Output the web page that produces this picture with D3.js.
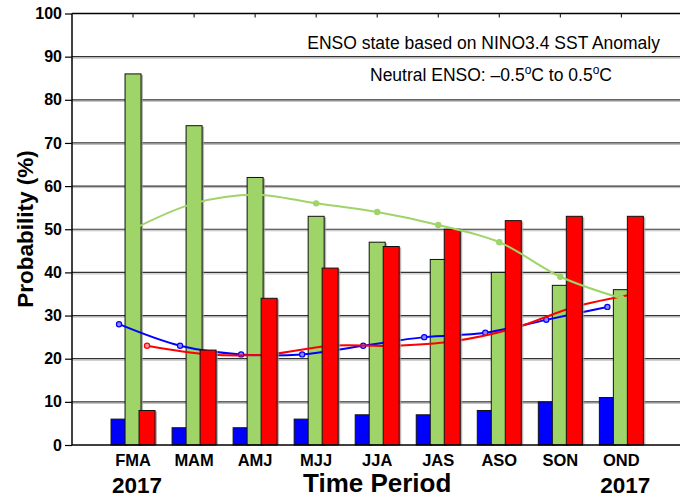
<!DOCTYPE html>
<html>
<head>
<meta charset="utf-8">
<script src="https://cdn.jsdelivr.net/npm/d3@7"></script>
<style>
  body { margin: 0; background: #fff; }
  text { font-family: "Liberation Sans", Arial, sans-serif; }
</style>
</head>
<body>
<svg id="chart" width="680" height="498"></svg>
<script>
// seasons (3-month periods)
const seasons = ["FMA", "MAM", "AMJ", "MJJ", "JJA", "JAS", "ASO", "SON", "OND"];
const yTicks = [0, 10, 20, 30, 40, 50, 60, 70, 80, 90, 100];

// model probabilities (bars)
const laNinaBars  = [6, 4, 4, 6, 7, 7, 8, 10, 11];
const neutralBars = [86, 74, 62, 53, 47, 43, 40, 37, 36];
const elNinoBars  = [8, 22, 34, 41, 46, 50, 52, 53, 53];

// climatological probabilities (lines)
const laNinaClim  = [28, 23, 21, 21, 23, 25, 26, 29, 32];
const neutralClim = [50, 56, 58, 56, 54, 51, 47, 39, 34];
const elNinoClim  = [23, 21, 21, 23, 23, 24, 27, 32, 35];

const blue = "#0000ff", green = "#9fd468", red = "#ff0000";

const svg = d3.select("#chart");

const plotLeft = 72, plotRight = 682.4, plotTop = 13.5, plotBottom = 445;

const x = d3.scaleLinear().domain([0, seasons.length + 1]).range([plotLeft, plotRight]);
const y = d3.scaleLinear().domain([0, 100]).range([plotBottom, plotTop]);

const barW = 16, offset = 14;

// gridlines, with a soft grey shadow under each
const grid = svg.append("g");
yTicks.filter(d => d > 0 && d < 100).forEach(d => {
  grid.append("line")
      .attr("x1", plotLeft).attr("x2", 690)
      .attr("y1", y(d) + 1.5).attr("y2", y(d) + 1.5)
      .attr("stroke", "#bbb").attr("stroke-width", 1);
  grid.append("line")
      .attr("x1", plotLeft).attr("x2", 690)
      .attr("y1", y(d)).attr("y2", y(d))
      .attr("stroke", "#333").attr("stroke-width", 1.2);
});

function drawBars(vals, dx, color) {
  const g = svg.append("g");
  vals.forEach((v, i) => {
    const bx = x(i + 1) + dx - barW / 2;
    // shadow
    g.append("rect")
        .attr("x", bx + 2).attr("y", y(v) + 1)
        .attr("width", barW).attr("height", plotBottom - y(v) - 1)
        .attr("fill", "#999").attr("opacity", 0.7);
    g.append("rect")
        .attr("x", bx).attr("y", y(v))
        .attr("width", barW).attr("height", plotBottom - y(v))
        .attr("fill", color)
        .attr("stroke", "#111").attr("stroke-width", 1);
  });
}

const line = d3.line()
    .curve(d3.curveCatmullRom.alpha(0.5))
    .x(d => d[0])
    .y(d => d[1]);

function drawLine(vals, dx, color, dot) {
  const pts = vals.map((v, i) => [x(i + 1) + dx, y(v)]);
  svg.append("path")
      .attr("d", line(pts))
      .attr("fill", "none")
      .attr("stroke", color)
      .attr("stroke-width", 2);
  svg.append("g").selectAll("circle")
      .data(pts)
      .join("circle")
      .attr("cx", d => d[0]).attr("cy", d => d[1])
      .attr("r", 2.6)
      .attr("fill", dot)
      .attr("stroke", color)
      .attr("stroke-width", 1.2);
}

// layering as in the original: red bars cover the blue/red lines, green line on top
drawBars(laNinaBars, -offset, blue);
drawBars(neutralBars, 0, green);
drawLine(laNinaClim, -offset, blue, "#8888ff");
drawLine(elNinoClim, offset, red, "#ff9999");
drawBars(elNinoBars, offset, red);
drawLine(neutralClim, 0, green, green);

// frame
svg.append("line")
    .attr("x1", plotLeft).attr("x2", 690).attr("y1", plotTop).attr("y2", plotTop)
    .attr("stroke", "#000").attr("stroke-width", 1.5);
svg.append("line")
    .attr("x1", plotLeft).attr("x2", 690).attr("y1", plotBottom).attr("y2", plotBottom)
    .attr("stroke", "#000").attr("stroke-width", 1.5);
svg.append("line")
    .attr("x1", plotLeft).attr("x2", plotLeft).attr("y1", plotTop).attr("y2", plotBottom)
    .attr("stroke", "#000").attr("stroke-width", 1.5);

// small inward ticks at the season positions on the top edge
svg.append("g").selectAll("line")
    .data(seasons)
    .join("line")
    .attr("x1", (d, i) => x(i + 1)).attr("x2", (d, i) => x(i + 1))
    .attr("y1", plotTop).attr("y2", plotTop + 4)
    .attr("stroke", "#000").attr("stroke-width", 1);

// y axis
const yAxis = svg.append("g")
    .attr("transform", "translate(" + plotLeft + ",0)")
    .call(d3.axisLeft(y).tickValues(yTicks).tickSize(7).tickPadding(3));
yAxis.select(".domain").remove();
yAxis.selectAll(".tick line").attr("stroke", "#000").attr("stroke-width", 1.2);
yAxis.selectAll(".tick text")
    .attr("font-family", "Liberation Sans, Arial, sans-serif")
    .attr("font-size", 16).attr("font-weight", "bold").attr("fill", "#000");

// x labels
svg.append("g").selectAll("text")
    .data(seasons)
    .join("text")
    .attr("x", (d, i) => x(i + 1))
    .attr("y", 466)
    .attr("text-anchor", "middle")
    .attr("font-size", 16.5).attr("font-weight", "bold")
    .text(d => d);

svg.append("text")
    .attr("x", x(1) + 4).attr("y", 493)
    .attr("text-anchor", "middle")
    .attr("font-size", 22.5).attr("font-weight", "bold")
    .text("2017");
svg.append("text")
    .attr("x", x(seasons.length) + 4).attr("y", 493)
    .attr("text-anchor", "middle")
    .attr("font-size", 22.5).attr("font-weight", "bold")
    .text("2017");

svg.append("text")
    .attr("x", (plotLeft + plotRight) / 2).attr("y", 492)
    .attr("text-anchor", "middle")
    .attr("font-size", 26).attr("font-weight", "bold")
    .text("Time Period");

svg.append("text")
    .attr("transform", "translate(33,229) rotate(-90)")
    .attr("text-anchor", "middle")
    .attr("font-size", 22.5).attr("font-weight", "bold")
    .text("Probability (%)");

// annotations
svg.append("text")
    .attr("x", 660).attr("y", 49)
    .attr("text-anchor", "end")
    .attr("font-size", 17.5)
    .text("ENSO state based on NINO3.4 SST Anomaly");

const note = svg.append("text")
    .attr("x", 370).attr("y", 81)
    .attr("font-size", 17.5);
note.append("tspan").text("Neutral ENSO: \u20130.5");
note.append("tspan").attr("dy", -7).attr("font-size", 12).text("o");
note.append("tspan").attr("dy", 7).text("C to 0.5");
note.append("tspan").attr("dy", -7).attr("font-size", 12).text("o");
note.append("tspan").attr("dy", 7).text("C");
</script>
</body>
</html>
